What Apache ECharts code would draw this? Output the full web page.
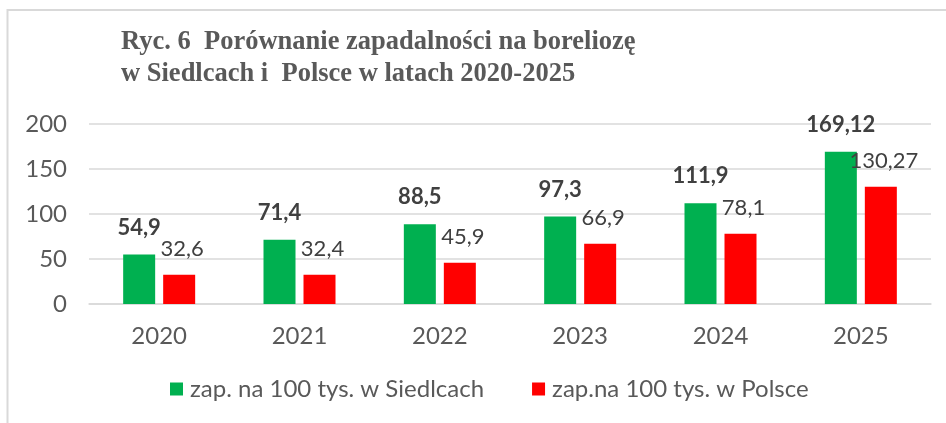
<!DOCTYPE html>
<html><head><meta charset="utf-8">
<script src="https://cdn.jsdelivr.net/npm/echarts@6/dist/echarts.min.js"></script>
<style>html,body{margin:0;padding:0;background:#fff}#c{width:946px;height:423px}</style>
</head><body><div id="c"></div>
<script>
const categories = ['2020','2021','2022','2023','2024','2025'];
const siedlce = [54.9, 71.4, 88.5, 97.3, 111.9, 169.12];
const polska = [32.6, 32.4, 45.9, 66.9, 78.1, 130.27];
const seriesNames = ['zap. na 100 tys. w Siedlcach', 'zap.na 100 tys. w Polsce'];
const yTicks = [0, 50, 100, 150, 200];

const fmt = v => String(v).replace('.', ',');
const chart = echarts.init(document.getElementById('c'));
chart.setOption({
  animation: false,
  backgroundColor: '#fff',
  title: {
    text: 'Ryc. 6  Porównanie zapadalności na boreliozę\nw Siedlcach i  Polsce w latach 2020-2025',
    left: 116, top: 21,
    textStyle: { fontFamily: 'Liberation Serif', fontWeight: 'bold', fontSize: 26.5, color: '#595959', lineHeight: 32 }
  },
  graphic: [
    { type: 'line', shape: { x1: 7, y1: 10, x2: 946, y2: 10 }, style: { stroke: '#D9D9D9', lineWidth: 2 } },
    { type: 'line', shape: { x1: 7.5, y1: 9, x2: 7.5, y2: 423 }, style: { stroke: '#D9D9D9', lineWidth: 2 } }
  ],
  grid: { left: 89, right: 15, top: 124, bottom: 119, containLabel: false },
  legend: {
    bottom: 17, left: 165, itemGap: 48,
    itemWidth: 13, itemHeight: 13, icon: 'rect',
    textStyle: { fontFamily: 'Lato', fontSize: 24, color: '#595959', padding: [0, 0, 0, 2] },
    data: seriesNames
  },
  xAxis: {
    type: 'category', data: categories,
    axisLine: { lineStyle: { color: '#D9D9D9', width: 1.5 } },
    axisTick: { show: false },
    axisLabel: { fontFamily: 'Lato', fontSize: 24, color: '#595959', margin: 20 }
  },
  yAxis: {
    type: 'value', min: 0, max: 200, interval: 50,
    axisLine: { show: false }, axisTick: { show: false },
    splitLine: { lineStyle: { color: '#D9D9D9', width: 1.5 } },
    axisLabel: { fontFamily: 'Lato', fontSize: 24, color: '#595959', margin: 22,
      formatter: v => yTicks.includes(v) ? String(v) : '' }
  },
  series: [
    { name: seriesNames[0], type: 'bar', data: siedlce, barWidth: 32, barGap: '25%',
      itemStyle: { color: '#00B050' },
      label: { show: true, position: 'top', distance: 16, formatter: p => fmt(p.value),
        fontFamily: 'Lato', fontWeight: 'bold', fontSize: 22, color: '#404040' } },
    { name: seriesNames[1], type: 'bar', data: polska, barWidth: 32,
      itemStyle: { color: '#FF0000' },
      label: { show: true, position: 'top', distance: 15, formatter: p => fmt(p.value),
        fontFamily: 'Lato', fontSize: 22, color: '#404040', offset: [3, 0] } }
  ]
});
</script></body></html>
